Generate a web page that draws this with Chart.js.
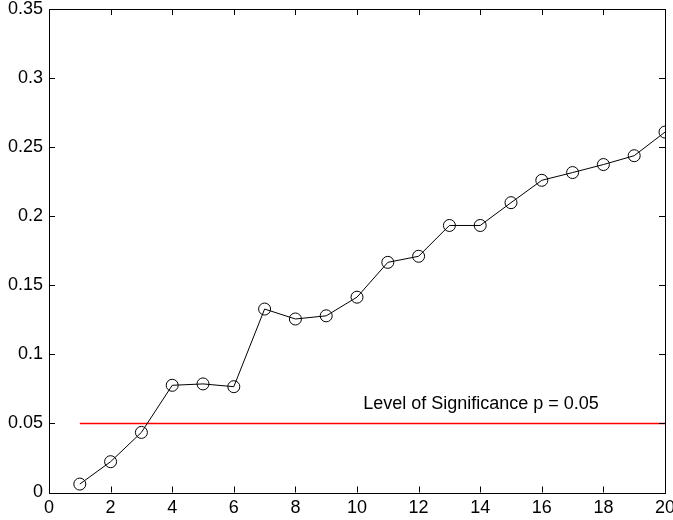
<!DOCTYPE html>
<html>
<head>
<meta charset="utf-8">
<script src="https://cdn.jsdelivr.net/npm/chart.js@4/dist/chart.umd.min.js"></script>
<style>
  html, body { margin: 0; padding: 0; background: #fff; }
  #wrap { width: 673px; height: 520px; position: relative; }
</style>
</head>
<body>
<div id="wrap"><canvas id="c" width="673" height="520"></canvas></div>
<script>
// ---- data ----
const xValues = [1, 2, 3, 4, 5, 6, 7, 8, 9, 10, 11, 12, 13, 14, 15, 16, 17, 18, 19, 20];
const pValues = [0.0061, 0.0223, 0.0435, 0.0776, 0.0786, 0.0766, 0.1328, 0.1256, 0.1279, 0.1414,
                 0.1666, 0.1710, 0.1933, 0.1933, 0.2098, 0.2260, 0.2316, 0.2374, 0.2438, 0.2609];
const thresholdX = [1, 20];
const thresholdY = [0.05, 0.05];
const xTickLabels = ['0', '2', '4', '6', '8', '10', '12', '14', '16', '18', '20'];
const yTickLabels = ['0', '0.05', '0.1', '0.15', '0.2', '0.25', '0.3', '0.35'];
const annotationText = 'Level of Significance p = 0.05';
const annotationPos = { x: 10.2, y: 0.0604 };

const FONT = 'Liberation Sans, Arial, Helvetica, sans-serif';

const boxPlugin = {
  id: 'boxTicks',
  afterDatasetsDraw(chart) {
    const ctx = chart.ctx;
    const a = chart.chartArea;
    const xs = chart.scales.x, ys = chart.scales.y;
    const L = 6;
    ctx.save();
    ctx.strokeStyle = '#000';
    ctx.lineWidth = 1;
    ctx.beginPath();
    xs.ticks.forEach(t => {
      const px = Math.round(xs.getPixelForValue(t.value)) + 0.5;
      ctx.moveTo(px, a.bottom); ctx.lineTo(px, a.bottom - L);
      ctx.moveTo(px, a.top); ctx.lineTo(px, a.top + L);
    });
    ys.ticks.forEach(t => {
      const py = Math.round(ys.getPixelForValue(t.value)) + 0.5;
      ctx.moveTo(a.left, py); ctx.lineTo(a.left + L, py);
      ctx.moveTo(a.right, py); ctx.lineTo(a.right - L, py);
    });
    ctx.stroke();
    ctx.strokeRect(Math.round(a.left) + 0.5, Math.round(a.top) + 0.5,
                   Math.round(a.right - a.left), Math.round(a.bottom - a.top));
    // annotation
    ctx.fillStyle = '#000';
    ctx.font = '18px ' + FONT;
    ctx.textAlign = 'left';
    ctx.textBaseline = 'alphabetic';
    ctx.fillText(annotationText, xs.getPixelForValue(annotationPos.x), ys.getPixelForValue(annotationPos.y));
    ctx.restore();
  }
};

function zeroPad(s) { s.paddingLeft = 0; s.paddingRight = 0; s.paddingTop = 0; s.paddingBottom = 0; }

new Chart(document.getElementById('c'), {
  type: 'line',
  data: {
    datasets: [
      {
        data: xValues.map((x, i) => ({ x: x, y: pValues[i] })),
        borderColor: '#000',
        borderWidth: 1,
        pointStyle: 'circle',
        pointRadius: 6,
        pointBorderColor: '#000',
        pointBorderWidth: 1,
        pointBackgroundColor: 'rgba(0,0,0,0)',
        tension: 0,
        fill: false,
        order: 1
      },
      {
        data: thresholdX.map((x, i) => ({ x: x, y: thresholdY[i] })),
        borderColor: '#ff0000',
        borderWidth: 1.5,
        pointRadius: 0,
        fill: false,
        order: 2
      }
    ]
  },
  options: {
    responsive: false,
    animation: false,
    devicePixelRatio: 1,
    layout: { padding: { left: 0, right: 8, top: 9, bottom: 0 } },
    plugins: { legend: { display: false }, tooltip: { enabled: false } },
    scales: {
      x: {
        type: 'linear',
        min: 0, max: 20,
        grid: { display: false, drawTicks: false },
        border: { display: false },
        ticks: {
          stepSize: 2,
          color: '#000',
          padding: 5,
          maxRotation: 0,
          font: { family: FONT, size: 18 },
          callback: (v) => xTickLabels[Math.round(v / 2)]
        },
        afterFit: (s) => { s.height = 27.5; zeroPad(s); }
      },
      y: {
        type: 'linear',
        min: 0, max: 0.35,
        grid: { display: false, drawTicks: false },
        border: { display: false },
        ticks: {
          stepSize: 0.05,
          color: '#000',
          padding: 6,
          font: { family: FONT, size: 18 },
          callback: (v) => yTickLabels[Math.round(v / 0.05)]
        },
        afterFit: (s) => { s.width = 49; zeroPad(s); }
      }
    }
  },
  plugins: [boxPlugin]
});
</script>
</body>
</html>
